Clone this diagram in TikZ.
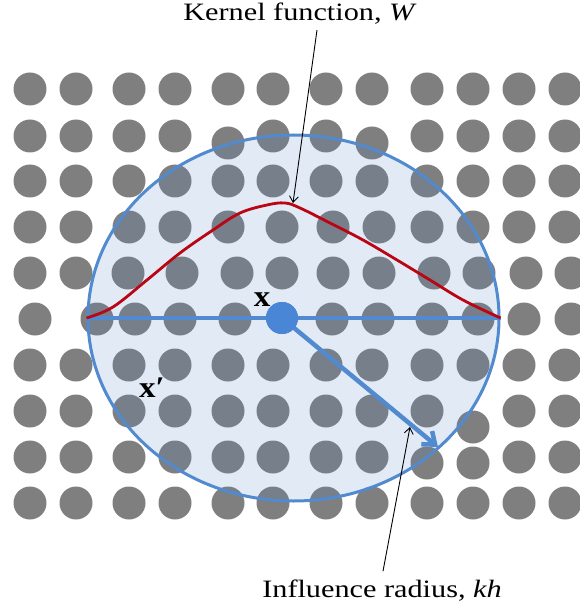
\documentclass[tikz,border=0pt]{standalone}
\usepackage{fontspec}
\setmainfont{Liberation Serif}
\usetikzlibrary{shapes.geometric,arrows.meta,calc}
\definecolor{dotgray}{RGB}{127,127,127}
\definecolor{fillblue}{RGB}{80,130,195}
\definecolor{lineblue}{RGB}{82,138,208}
\definecolor{ctrblue}{RGB}{74,134,214}
\definecolor{kred}{RGB}{185,5,20}
\begin{document}
\begin{tikzpicture}[x=1pt,y=-1pt,
  dot/.style={fill=dotgray},
  lbl/.style={font=\fontsize{25}{30}\selectfont, inner sep=0pt},
  xlbl/.style={font=\fontsize{30}{34}\selectfont, inner sep=0pt},
  leader/.style={draw=black, line width=0.9pt, -{Straight Barb[length=6pt,width=9pt]}},
  bluestroke/.style={draw=lineblue, line width=4.5pt}]
\useasboundingbox (0,0) rectangle (579,612);
% particle grid
\foreach \y in {89,181,365,503}{
  \foreach \x in {30,76,129,175,228,273,326,372,427,473,519,565}{
    \fill[dot] (\x,\y) circle[radius=16.5pt];}}
\foreach \x/\y in {30/136,76/136,129/136,175/136,228/143,273/136,326/136,372/143,427/136,473/136,519/136,565/136}{
  \fill[dot] (\x,\y) circle[radius=16.5pt];}
\foreach \x in {30,76,129,175,228,282,333,379,427,473,519,565}{
  \fill[dot] (\x,227) circle[radius=16.5pt];}
\foreach \x in {30,76,128,182,237,282,333,379,434,479,526,571}{
  \fill[dot] (\x,273) circle[radius=16.5pt];}
\foreach \x in {35,97,135,180,235,332,378,432,478,524,571}{
  \fill[dot] (\x,319) circle[radius=16.5pt];}
\foreach \x/\y in {30/411,76/411,129/411,175/411,228/411,273/411,326/411,372/411,427/411,473/427,519/411,565/411}{
  \fill[dot] (\x,\y) circle[radius=16.5pt];}
\foreach \x/\y in {30/457,76/457,129/457,175/457,228/457,273/457,326/457,372/457,427/463,473/463,519/457,565/457}{
  \fill[dot] (\x,\y) circle[radius=16.5pt];}
% support domain
\node[ellipse, minimum width=411pt, minimum height=366pt, inner sep=0pt,
      fill=fillblue, fill opacity=0.17, draw=lineblue, draw opacity=1, line width=3pt] (E) at (293.5,318) {};
\draw[bluestroke] (E.west) -- (E.east);
% kernel function
\draw[kred, line width=2.8pt] plot[smooth, tension=0.6] coordinates {(E.west) (113,307) (147,280) (180,253) (213,230) (240,213) (267,205) (285,203) (300,208) (330,223) (363,240) (397,260) (430,280) (463,300) (E.east)};
% radius arrow and particle
\coordinate (atip) at (438,447);
\node[circle, fill=ctrblue, minimum size=32pt, inner sep=0pt] (X) at (282,318) {};
\draw[bluestroke, -{Straight Barb[length=11pt,width=17pt]}] (X.center) -- (atip);
\node[circle, fill=ctrblue, minimum size=32pt, inner sep=0pt] at (X.center) {};
% labels
\node[xlbl, anchor=base] (xl) at (262,306) {\scalebox{1.1}[1]{\textbf{x}}};
\node[xlbl, anchor=base west] (xp) at (139,397) {\scalebox{1.1}[1]{\textbf{x′}}};
\node[lbl, anchor=base] (T) at (300,21) {\scalebox{1.21}[1]{Kernel function, \textit{W}}};
\node[lbl, anchor=base] (B) at (382,597) {\scalebox{1.21}[1]{Influence radius, \textit{kh}}};
\coordinate (kpeak) at (293,203);
\coordinate (rtip) at (410,427);
\draw[leader] ($(T.south)+(17,5)$) -- (kpeak);
\draw[leader] ($(B.north)+(1,-8)$) -- (rtip);
\end{tikzpicture}
\end{document}
